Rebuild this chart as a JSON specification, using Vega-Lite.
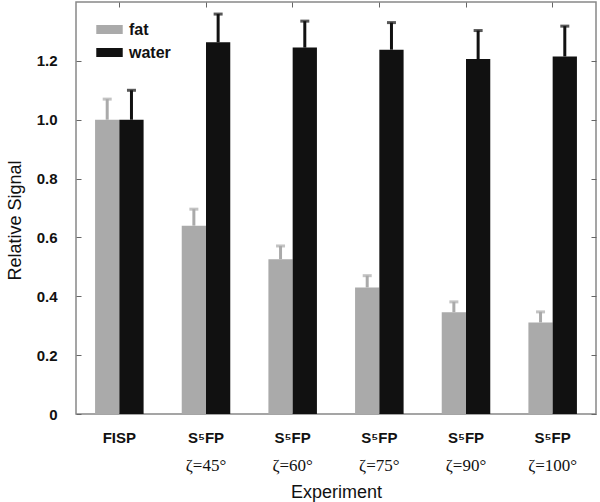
{
  "$schema": "https://vega.github.io/schema/vega-lite/v6.json",
  "autosize": {"type": "none"},
  "padding": {"left": 76, "top": 2, "right": 4, "bottom": 88},
  "width": 520,
  "height": 412,
  "background": "white",
  "config": {
    "view": {"stroke": "#888", "strokeWidth": 1.5},
    "font": "Liberation Sans"
  },
  "data": {
    "values": [
      {"exp": "FISP", "series": "fat", "value": 1.0, "upper": 1.07},
      {"exp": "FISP", "series": "water", "value": 1.0, "upper": 1.10},
      {"exp": "45", "series": "fat", "value": 0.64, "upper": 0.696},
      {"exp": "45", "series": "water", "value": 1.263, "upper": 1.359},
      {"exp": "60", "series": "fat", "value": 0.526, "upper": 0.571},
      {"exp": "60", "series": "water", "value": 1.245, "upper": 1.335},
      {"exp": "75", "series": "fat", "value": 0.43, "upper": 0.47},
      {"exp": "75", "series": "water", "value": 1.238, "upper": 1.33},
      {"exp": "90", "series": "fat", "value": 0.346, "upper": 0.381},
      {"exp": "90", "series": "water", "value": 1.206, "upper": 1.303},
      {"exp": "100", "series": "fat", "value": 0.311, "upper": 0.347},
      {"exp": "100", "series": "water", "value": 1.215, "upper": 1.318}
    ]
  },
  "encoding": {
    "x": {
      "field": "exp",
      "type": "nominal",
      "sort": ["FISP", "45", "60", "75", "90", "100"],
      "scale": {"paddingInner": 0.44, "paddingOuter": 0.22}
    },
    "xOffset": {
      "field": "series",
      "type": "nominal",
      "sort": ["fat", "water"],
      "scale": {"paddingInner": 0, "paddingOuter": 0}
    },
    "color": {
      "field": "series",
      "type": "nominal",
      "sort": ["fat", "water"],
      "scale": {"domain": ["fat", "water"], "range": ["#aaaaaa", "#111111"]},
      "legend": {
        "title": null,
        "orient": "none",
        "legendX": 20,
        "legendY": 14,
        "symbolType": "M-1,-0.34H1V0.34H-1Z",
        "symbolSize": 700,
        "symbolStrokeWidth": 0,
        "symbolOpacity": 1,
        "labelFont": "Liberation Sans",
        "labelFontSize": 16,
        "labelFontWeight": "bold",
        "labelColor": "#111",
        "rowPadding": 1,
        "labelOffset": 6
      }
    }
  },
  "layer": [
    {
      "mark": {"type": "bar", "opacity": 1},
      "encoding": {
        "x": {
          "field": "exp",
          "type": "nominal",
          "sort": ["FISP", "45", "60", "75", "90", "100"],
          "title": "Experiment",
          "axis": {
            "orient": "bottom",
            "domain": false,
            "ticks": false,
            "labelAngle": 0,
            "labelExpr": "datum.value == 'FISP' ? 'FISP' : 'S⁵FP'",
            "labelFont": "Liberation Sans",
            "labelFontSize": 15,
            "labelFontWeight": "bold",
            "labelColor": "#111",
            "labelPadding": 16,
            "titleFont": "Liberation Sans",
            "titleFontSize": 18,
            "titleFontWeight": "normal",
            "titleColor": "#111",
            "titlePadding": 38
          }
        },
        "y": {
          "field": "value",
          "type": "quantitative",
          "title": "Relative Signal",
          "scale": {"domain": [0, 1.4], "nice": false},
          "axis": {
            "orient": "left",
            "values": [0, 0.2, 0.4, 0.6, 0.8, 1.0, 1.2],
            "labelExpr": "datum.value == 0 ? '0' : format(datum.value, '.1f')",
            "domain": false,
            "grid": false,
            "ticks": true,
            "tickSize": -5,
            "tickColor": "#666",
            "labelPadding": 24,
            "labelFont": "Liberation Sans",
            "labelFontSize": 15,
            "labelFontWeight": "bold",
            "labelColor": "#111",
            "titleFont": "Liberation Sans",
            "titleFontSize": 18,
            "titleFontWeight": "normal",
            "titleColor": "#111",
            "titlePadding": 12,
            "titleY": 218
          }
        }
      }
    },
    {
      "mark": {"type": "rule", "strokeWidth": 3},
      "encoding": {
        "x": {
          "field": "exp",
          "type": "nominal",
          "sort": ["FISP", "45", "60", "75", "90", "100"],
          "title": null,
          "axis": {
            "orient": "bottom",
            "domain": false,
            "ticks": false,
            "labelAngle": 0,
            "labelExpr": "datum.value == 'FISP' ? '' : 'ζ=' + datum.value + '°'",
            "labelFont": "Liberation Serif",
            "labelFontSize": 17,
            "labelColor": "#111",
            "labelPadding": 6,
            "offset": 37
          }
        },
        "y": {
          "field": "value",
          "type": "quantitative",
          "axis": {
            "orient": "right",
            "values": [0, 0.2, 0.4, 0.6, 0.8, 1.0, 1.2],
            "labels": false,
            "domain": false,
            "grid": false,
            "tickSize": -5,
            "tickColor": "#666",
            "title": null
          }
        },
        "y2": {"field": "upper"}
      }
    },
    {
      "mark": {"type": "tick", "thickness": 3, "size": 9},
      "encoding": {
        "x": {
          "field": "exp",
          "type": "nominal",
          "sort": ["FISP", "45", "60", "75", "90", "100"],
          "title": null,
          "axis": {
            "orient": "top",
            "domain": false,
            "labels": false,
            "ticks": true,
            "tickSize": -5,
            "tickColor": "#666"
          }
        },
        "y": {"field": "upper", "type": "quantitative", "axis": null}
      }
    }
  ],
  "resolve": {"axis": {"x": "independent", "y": "independent"}}
}
